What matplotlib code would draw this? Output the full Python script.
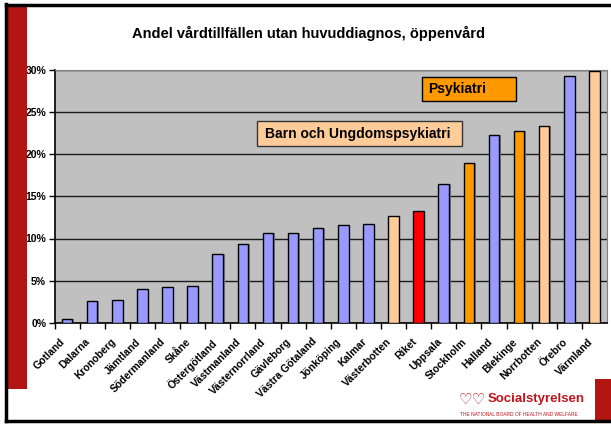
import matplotlib
import matplotlib.pyplot as plt
from matplotlib.patches import Rectangle
from matplotlib.lines import Line2D

matplotlib.use("Agg")
plt.rcParams["font.family"] = ["Liberation Sans", "DejaVu Sans"]

# data
landsting = [
    "Gotland", "Dalarna", "Kronoberg", "Jämtland", "Södermanland", "Skåne",
    "Östergötland", "Västmanland", "Västernorrland", "Gävleborg",
    "Västra Götaland", "Jönköping", "Kalmar", "Västerbotten", "Riket",
    "Uppsala", "Stockholm", "Halland", "Blekinge", "Norrbotten", "Örebro",
    "Värmland",
]
andel = [
    0.5, 2.6, 2.75, 4.0, 4.25, 4.35, 8.2, 9.3, 10.6, 10.6, 11.2, 11.6, 11.7,
    12.7, 13.3, 16.4, 18.9, 22.3, 22.75, 23.3, 29.25, 29.85,
]
typ = [
    "vux", "vux", "vux", "vux", "vux", "vux", "vux", "vux", "vux", "vux",
    "vux", "vux", "vux", "bup", "riket", "vux", "psyk", "vux", "psyk", "bup",
    "vux", "bup",
]
yticks = [0, 5, 10, 15, 20, 25, 30]

farger = {"vux": "#9999FF", "bup": "#FFCC99", "psyk": "#FF9900", "riket": "#FF0000"}

fig = plt.figure(figsize=(6.11, 4.25), dpi=100)

# ram och röda fält
fig.add_artist(Line2D([6 / 611, 1], [1 - 4.5 / 425, 1 - 4.5 / 425], color="black", lw=2.5))
fig.add_artist(Line2D([6 / 611, 6 / 611], [1 - 4 / 425, 1 - 421 / 425], color="black", lw=2.5))
fig.add_artist(Line2D([6 / 611, 1], [1 - 421 / 425, 1 - 421 / 425], color="black", lw=2.5))
fig.add_artist(Rectangle((8 / 611, 1 - 389 / 425), 19 / 611, 384 / 425,
                         transform=fig.transFigure, color="#B31512", lw=0))
fig.add_artist(Rectangle((595 / 611, 1 - 420 / 425), 16 / 611, 41 / 425,
                         transform=fig.transFigure, color="#B31512", lw=0))

ax = fig.add_axes([54.5 / 611, 1 - 323 / 425, 552.5 / 611, 253.5 / 425])
ax.set_facecolor("#C0C0C0")

x = list(range(len(landsting)))
# enkel skugga
ax.bar([i + 0.06 for i in x], andel, width=0.42, color="#808080", lw=0, zorder=2)
ax.bar(x, andel, width=0.42, color=[farger[t] for t in typ],
       edgecolor="black", linewidth=1, zorder=3)

ax.set_xlim(-0.5, len(landsting) - 0.5)
ax.set_ylim(0, 30)
ax.set_yticks(yticks)
ax.set_yticklabels([f"{v}%" for v in yticks], fontsize=7.5, fontweight="bold")
ax.yaxis.grid(True, color="#1a1a1a", lw=1)
ax.set_axisbelow(True)

ax.set_xticks([i + 0.5 for i in x[:-1]] + [-0.5])
ax.set_xticklabels([])
ax.tick_params(axis="x", length=4, direction="out", width=1)
ax.tick_params(axis="y", length=4, direction="out", width=1, pad=2)
for i, namn in enumerate(landsting):
    ax.text(i - 0.28, -1.6, namn, rotation=45, ha="right", va="top",
            rotation_mode="anchor", fontsize=7.5, fontweight="bold",
            transform=ax.transData, clip_on=False)

for s in ["top", "right"]:
    ax.spines[s].set_color("#808080")
ax.spines["left"].set_color("black")
ax.spines["bottom"].set_color("black")
ax.spines["left"].set_linewidth(1.2)
ax.spines["bottom"].set_linewidth(1.2)

# förklaringsrutor
ax.add_patch(Rectangle((0.665, 0.876), 0.170, 0.094, transform=ax.transAxes,
                       fc="#FF9900", ec="black", lw=1, zorder=5))
ax.text(0.676, 0.923, "Psykiatri", transform=ax.transAxes, ha="left", va="center",
        fontsize=10, fontweight="bold", zorder=6)
ax.add_patch(Rectangle((0.3665, 0.698), 0.371, 0.099, transform=ax.transAxes,
                       fc="#FFCC99", ec="#333333", lw=1, zorder=5))
ax.text(0.381, 0.7475, "Barn och Ungdomspsykiatri", transform=ax.transAxes,
        ha="left", va="center", fontsize=10, fontweight="bold", zorder=6)

fig.text(0.505, 1 - 33 / 425, "Andel vårdtillfällen utan huvuddiagnos, öppenvård",
         ha="center", va="center", fontsize=10.5, fontweight="bold")

# logotyp
fig.text(488 / 611, 1 - 399 / 425, "Socialstyrelsen", color="#C0141B",
         fontsize=9.5, fontweight="bold", ha="left", va="center")
fig.text(460 / 611, 1 - 414 / 425, "THE NATIONAL BOARD OF HEALTH AND WELFARE",
         color="#C0141B", fontsize=3.5, ha="left", va="center")
fig.text(472 / 611, 1 - 399 / 425, "\u2661\u2661", color="#C0141B",
         family=["DejaVu Sans"], fontsize=11, ha="center", va="center")

fig.savefig("out.png", dpi=100)
plt.close(fig)
